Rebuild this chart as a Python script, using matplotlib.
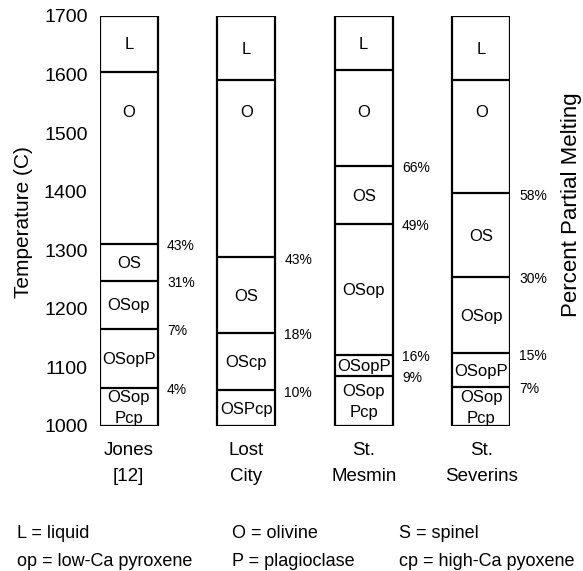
import matplotlib
matplotlib.use("Agg")
import matplotlib.pyplot as plt
from matplotlib.patches import Rectangle

plt.rcParams['font.family'] = ['Liberation Sans', 'DejaVu Sans']

# ---- data ----
columns = ["Jones\n[12]", "Lost\nCity", "St.\nMesmin", "St.\nSeverins"]
# boundaries (top -> bottom) in deg C
boundaries = [
    [1700, 1605, 1311, 1248, 1166, 1065, 1000],
    [1700, 1591, 1288, 1159, 1061, 1000],
    [1700, 1608, 1444, 1345, 1121, 1086, 1000],
    [1700, 1590, 1397, 1255, 1124, 1067, 1000],
]
phases = [
    ["L", "O", "OS", "OSop", "OSopP", "OSop\nPcp"],
    ["L", "O", "OS", "OScp", "OSPcp"],
    ["L", "O", "OS", "OSop", "OSopP", "OSop\nPcp"],
    ["L", "O", "OS", "OSop", "OSopP", "OSop\nPcp"],
]
# percent partial melting at interior boundaries (starting at the O/OS boundary)
melt_pct = [
    ["43%", "31%", "7%", "4%"],
    ["43%", "18%", "10%"],
    ["66%", "49%", "16%", "9%"],
    ["58%", "30%", "15%", "7%"],
]
yticks = [1000, 1100, 1200, 1300, 1400, 1500, 1600, 1700]
legend_rows = [
    ["L = liquid", "O = olivine", "S = spinel"],
    ["op = low-Ca pyroxene", "P = plagioclase", "cp = high-Ca pyoxene"],
]

W, H = 583, 571
fig = plt.figure(figsize=(W / 100, H / 100), dpi=100)
left, right, top, bot = 100, 510, 16, 426
ax = fig.add_axes([left / W, 1 - bot / H, (right - left) / W, (bot - top) / H])
ax.set_xlim(-0.245, 3.245)
ax.set_ylim(1000, 1700)
for s in ax.spines.values():
    s.set_visible(False)
ax.set_xticks([])
ax.set_yticks(yticks)
ax.tick_params(axis='y', length=0, pad=9, labelsize=14)

bw = 0.49
lw = 1.6
for i, (bnds, ph, pc) in enumerate(zip(boundaries, phases, melt_pct)):
    x0 = i - bw / 2
    ax.add_patch(Rectangle((x0, 1000), bw, 700, fill=False, lw=lw, ec='black', zorder=3))
    for b in bnds[1:-1]:
        ax.plot([x0, x0 + bw], [b, b], color='black', lw=lw, solid_capstyle='butt', zorder=3)
    for k, name in enumerate(ph):
        hi, lo = bnds[k], bnds[k + 1]
        if name == "O":
            yc = 1535
        else:
            yc = (hi + lo) / 2 - 2
        ax.text(i, yc, name, ha='center', va='center', fontsize=12, linespacing=1.5)
    for b, t in zip(bnds[2:-1], pc):
        ax.text(x0 + bw + 0.08, b - 4, t, ha='left', va='center', fontsize=10)
    ax.text(i, 936, columns[i], ha='center', va='center', fontsize=13.5,
            linespacing=1.7, clip_on=False)

fig.text(24 / W, 1 - 222 / H, "Temperature (C)", rotation=90, ha='center', va='center', fontsize=15)
fig.text(572 / W, 1 - 205 / H, "Percent Partial Melting", rotation=90, ha='center', va='center', fontsize=16)

xs = [17, 232, 399]
ys = [534, 561]
for r, row in enumerate(legend_rows):
    for c, t in enumerate(row):
        fig.text(xs[c] / W, 1 - ys[r] / H, t, ha='left', va='center', fontsize=13)

fig.savefig("out.png", dpi=100)
